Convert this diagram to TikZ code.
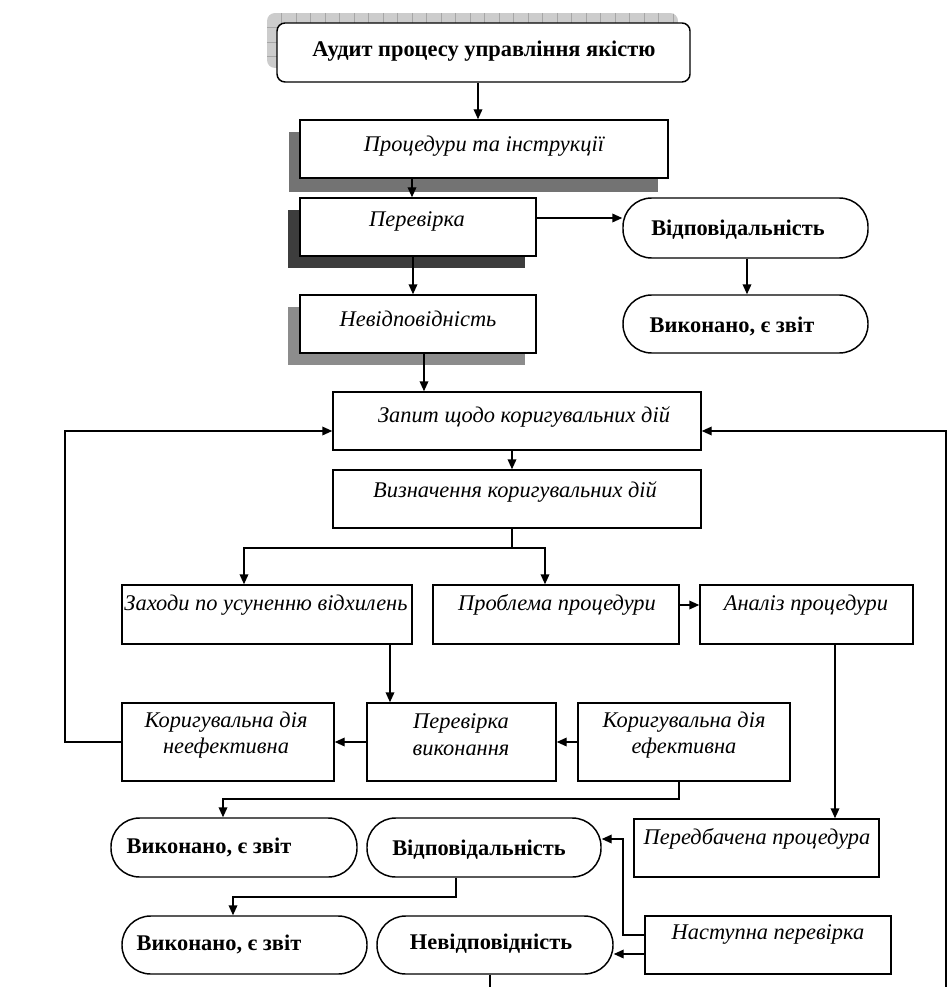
\documentclass[tikz,border=0pt]{standalone}
\usepackage{fontspec}
\setmainfont{Liberation Serif}
\usetikzlibrary{arrows.meta,fit}
\begin{document}
\begin{tikzpicture}[x=0.75pt,y=-0.75pt,
  box/.style={draw, line width=1.1pt, fill=white, inner sep=0pt},
  pill/.style={box, rounded corners=21.5pt},
  it/.style={font=\fontsize{16.8}{20}\selectfont\itshape, inner sep=0pt, align=center},
  bf/.style={font=\fontsize{16.8}{20}\selectfont\bfseries, inner sep=0pt},
  ln/.style={line width=1.1pt},
  arr/.style={line width=1.1pt, -{Triangle[length=7.5pt,width=6.5pt]}}]
\useasboundingbox (0,0) rectangle (951,987);

% ---- shadows ----
\begin{scope}
  \clip[rounded corners=6pt] (267,13) rectangle (678,68);
  \fill[gray!40] (267,13) rectangle (678,68);
  \foreach \x in {281.5,296,...,678} \draw[gray!70, line width=0.5pt] (\x,13) -- (\x,68);
  \foreach \y in {27.5,42,56.5} \draw[gray!70, line width=0.5pt] (267,\y) -- (678,\y);
\end{scope}
\fill[black!55] (289,132) rectangle (658,192);
\fill[black!76] (288,210) rectangle (525,268);
\fill[black!45] (288,307) rectangle (525,365);

% ---- boxes ----
\node[box, rounded corners=6pt, fit={(277,23) (690,82)}] (audit) {};
\node[box, fit={(300,120) (668,178)}] (proc) {};
\node[box, fit={(300,198) (536,256)}] (perev) {};
\node[pill, fit={(623,198) (868,258)}] (vidp1) {};
\node[pill, fit={(623,295) (868,353)}] (vyk1) {};
\node[box, fit={(300,295) (536,353)}] (nevid1) {};
\node[box, fit={(333,392) (701,450)}] (zapyt) {};
\node[box, fit={(333,470) (701,528)}] (vyzn) {};
\node[box, fit={(122,585) (412,644)}] (zakhody) {};
\node[box, fit={(433,585) (679,644)}] (problema) {};
\node[box, fit={(700,585) (913,644)}] (analiz) {};
\node[box, fit={(122,703) (334,781)}] (kornef) {};
\node[box, fit={(367,703) (556,781)}] (perevvyk) {};
\node[box, fit={(578,703) (790,781)}] (korefekt) {};
\node[pill, fit={(111,818) (357,877)}] (vyk2) {};
\node[pill, fit={(367,818) (601,877)}] (vidp2) {};
\node[box, fit={(634,819) (879,877)}] (peredb) {};
\node[pill, fit={(122,916) (367,974)}] (vyk3) {};
\node[pill, fit={(377,916) (613,974)}] (nevid2) {};
\node[box, fit={(645,916) (891,974)}] (nastupna) {};

% ---- texts ----
\node[bf] (tAudit) at (484,51) {Аудит процесу управління якістю};
\node[it] (tProc) at (484,146) {Процедури та інструкції};
\node[it] (tPerev) at (417,221) {Перевірка};
\node[bf] (tVidp1) at (738,230) {Відповідальність};
\node[bf] (tVyk1) at (732,326) {Виконано, є звіт};
\node[it] (tNevid1) at (418,319) {Невідповідність};
\node[it] (tZapyt) at (524,417) {Запит щодо коригувальних дій};
\node[it] (tVyzn) at (515,492) {Визначення коригувальних дій};
\node[it] (tZakh) at (266,605) {Заходи по усуненню відхилень};
\node[it] (tProb) at (557,605) {Проблема процедури};
\node[it] (tAnal) at (806,605) {Аналіз процедури};
\node[it] (tKornef) at (226,735) {Коригувальна дія\\неефективна};
\node[it] (tPerevvyk) at (461,735) {Перевірка\\виконання};
\node[it] (tKorefekt) at (684,735) {Коригувальна дія\\ефективна};
\node[bf] (tVyk2) at (209,847) {Виконано, є звіт};
\node[bf] (tVidp2) at (479,850) {Відповідальність};
\node[it] (tPeredb) at (757,839) {Передбачена процедура};
\node[bf] (tVyk3) at (219,944) {Виконано, є звіт};
\node[bf] (tNevid2) at (491,944) {Невідповідність};
\node[it] (tNast) at (768,934) {Наступна перевірка};

% ---- helper coordinates ----
\coordinate (jn) at (512,548);
\coordinate (lft) at (65,431);
\coordinate (rgtTop) at (946,431);
\coordinate (rgtBot) at (946,987);
\coordinate (c1) at (679,799);
\coordinate (c2) at (456,897);
\coordinate (c3) at (623,935);
\coordinate (c4) at (490,987);

% ---- connectors ----
\draw[arr] (audit.south -| 478,0) -- (proc.north -| 478,0);
\draw[arr] (proc.south -| 412,0) -- (perev.north -| 412,0);
\draw[arr] (perev.east |- 0,218) -- (vidp1.west |- 0,218);
\draw[arr] (vidp1.south -| 747,0) -- (vyk1.north -| 747,0);
\draw[arr] (perev.south -| 413,0) -- (nevid1.north -| 413,0);
\draw[arr] (nevid1.south -| 424,0) -- (zapyt.north -| 424,0);
\draw[arr] (zapyt.south -| 512,0) -- (vyzn.north -| 512,0);
\draw[ln] (vyzn.south -| jn) -- (jn);
\draw[arr] (jn) -| (zakhody.north -| 244,0);
\draw[arr] (jn) -| (problema.north -| 545,0);
\draw[arr] (problema.east |- 0,605) -- (analiz.west |- 0,605);
\draw[arr] (zakhody.south -| 390,0) -- (perevvyk.north -| 390,0);
\draw[arr] (korefekt.west) -- (perevvyk.east);
\draw[arr] (perevvyk.west) -- (kornef.east);
\draw[arr] (kornef.west) -| (lft) -- (zapyt.west |- lft);
\draw[arr] (rgtBot) -- (rgtTop) -- (zapyt.east |- rgtTop);
\draw[arr] (analiz.south -| 835,0) -- (peredb.north -| 835,0);
\draw[arr] (korefekt.south -| c1) -- (c1) -| (vyk2.north -| 223,0);
\draw[arr] (vidp2.south -| c2) -- (c2) -| (vyk3.north -| 233,0);
\draw[arr] (nastupna.west |- c3) -- (c3) |- (vidp2.east |- 0,839);
\draw[arr] (nastupna.west |- 0,954) -- (nevid2.east |- 0,954);
\draw[ln] (nevid2.south -| c4) -- (c4);
\end{tikzpicture}
\end{document}
